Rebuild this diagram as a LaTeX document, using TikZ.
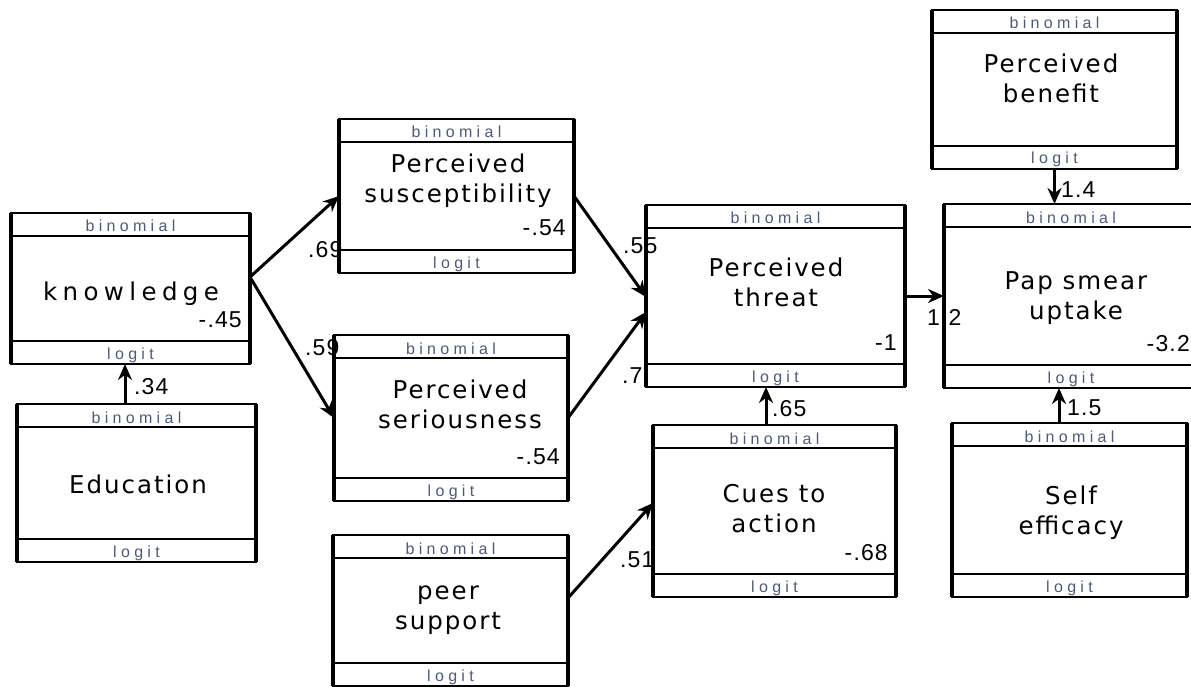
\documentclass[tikz,border=0pt]{standalone}
\usepackage{fontspec}
\usepackage{tikz}
\usetikzlibrary{arrows.meta,positioning}
\newfontfamily\lblfont[LetterSpace=8]{DejaVu Sans}
\newfontfamily\widefont[LetterSpace=22]{DejaVu Sans}
\newfontfamily\numfont[LetterSpace=5]{Liberation Sans}
\newfontfamily\linkfont[LetterSpace=27]{Liberation Sans}
\definecolor{linkgray}{RGB}{75,90,125}
\tikzset{
  var box/.style={draw,line width=2.6pt,inner sep=0pt,outer sep=0pt},
  var side/.style={line width=4pt,line cap=butt},
  var strip/.style={line width=2pt,line cap=butt},
  var name/.style={font=\lblfont\fontsize{24.5}{30}\selectfont,align=center,inner sep=0pt,anchor=base},
  var link/.style={font=\linkfont\fontsize{16}{16}\selectfont,text=linkgray,inner sep=0pt,anchor=base},
  var icept/.style={font=\numfont\fontsize{23}{23}\selectfont,inner sep=0pt,anchor=base east},
  path coef/.style={font=\numfont\fontsize{23}{23}\selectfont,inner sep=0pt,anchor=base west},
  path arrow/.style={line width=3pt,-{Stealth[length=16pt,width=14pt]}}
}
\begin{document}
\begin{tikzpicture}[x=1pt,y=-1pt]
\useasboundingbox (0,0) rectangle (1191,687);
\clip (0,0) rectangle (1191,687);
\foreach \n/\cx/\cy/\w/\h in {know/130.5/288.5/239/151, susc/456.5/196/235/154,
    sers/451/418/234/166, threat/775.5/296/259/182, benefit/1054.5/89.5/245/159,
    pap/1071/296/254/184, edu/136.5/483/239/158, peer/450.5/610.5/235/151,
    cues/774.5/511/243/172, self/1069.5/510/235/174}{
  \node[var box,minimum width=\w pt,minimum height=\h pt] (\n) at (\cx,\cy) {};
  \draw[var strip] ([yshift=-23pt]\n.north west) -- ([yshift=-23pt]\n.north east);
  \draw[var strip] ([yshift=23pt]\n.south west) -- ([yshift=23pt]\n.south east);
  \draw[var side] (\n.north west) -- (\n.south west) (\n.north east) -- (\n.south east);
  \node[var link] (\n-top) at ([yshift=-19pt]\n.north) {binomial};
  \node[var link] (\n-bot) at ([yshift=5pt]\n.south) {logit};
}
\foreach \n/\v in {know/-.45, susc/-.54, sers/-.54, threat/-1, pap/-3.2, cues/-.68}
  \node[var icept] (\n-ic) at ([xshift=-8pt,yshift=37pt]\n.south east) {\v};

\node[var name,font=\widefont\fontsize{24.5}{30}\selectfont] (know-lbl) at (131,300) {knowledge};
\node[var name] (susc-lbl) at (458,203) {Perceived\\susceptibility};
\node[var name] (sers-lbl) at (460,428) {Perceived\\seriousness};
\node[var name] (threat-lbl) at (776,306) {Perceived\\threat};
\node[var name] (benefit-lbl) at (1051,103) {Perceived\\benefit};
\node[var name] (pap-lbl) at (1076,319) {Pap smear\\uptake};
\node[var name] (edu-lbl) at (138,493) {Education};
\node[var name] (peer-lbl) at (448,629) {peer\\support};
\node[var name] (cues-lbl) at (774,532) {Cues to\\action};
\node[var name] (self-lbl) at (1071,534) {Self\\efficacy};

\draw[path arrow] ([xshift=-11.5pt]edu.north) -- ([xshift=-11.5pt]edu.north |- know.south);
\draw[path arrow] ([yshift=11.5pt]know.east) -- (susc.west);
\draw[path arrow] ([yshift=11.5pt]know.east) -- (sers.west);
\draw[path arrow] (susc.east) -- ([yshift=-1pt]threat.west);
\draw[path arrow] (sers.east) -- ([yshift=-16pt]threat.west);
\draw[path arrow] ([yshift=12.5pt]peer.east) -- ([yshift=8pt]cues.west);
\draw[path arrow] ([xshift=-8.5pt]cues.north) -- ([xshift=-8.5pt]cues.north |- threat.south);
\draw[path arrow] (threat.east) -- (threat.east -| pap.west);
\draw[path arrow] (benefit.south) -- (benefit.south |- pap.north);
\draw[path arrow] ([xshift=-10.5pt]self.north) -- ([xshift=-10.5pt]self.north |- pap.south);

\node[path coef] (c-edu) at (134,394) {.34};
\node[path coef] (c-susc) at (308,258) {.69};
\node[path coef] (c-sers) at (305,355) {.59};
\node[path coef] (c-thr1) at (623,253) {.55};
\node[path coef] (c-thr2) at (622,383) {.7};
\node[path coef] (c-peer) at (620,567) {.51};
\node[path coef] (c-cues) at (772,416) {.65};
\node[path coef] (c-pap) at (927,325) {1.2};
\node[path coef] (c-ben) at (1061,198) {1.4};
\node[path coef] (c-self) at (1067,415) {1.5};
\end{tikzpicture}
\end{document}
